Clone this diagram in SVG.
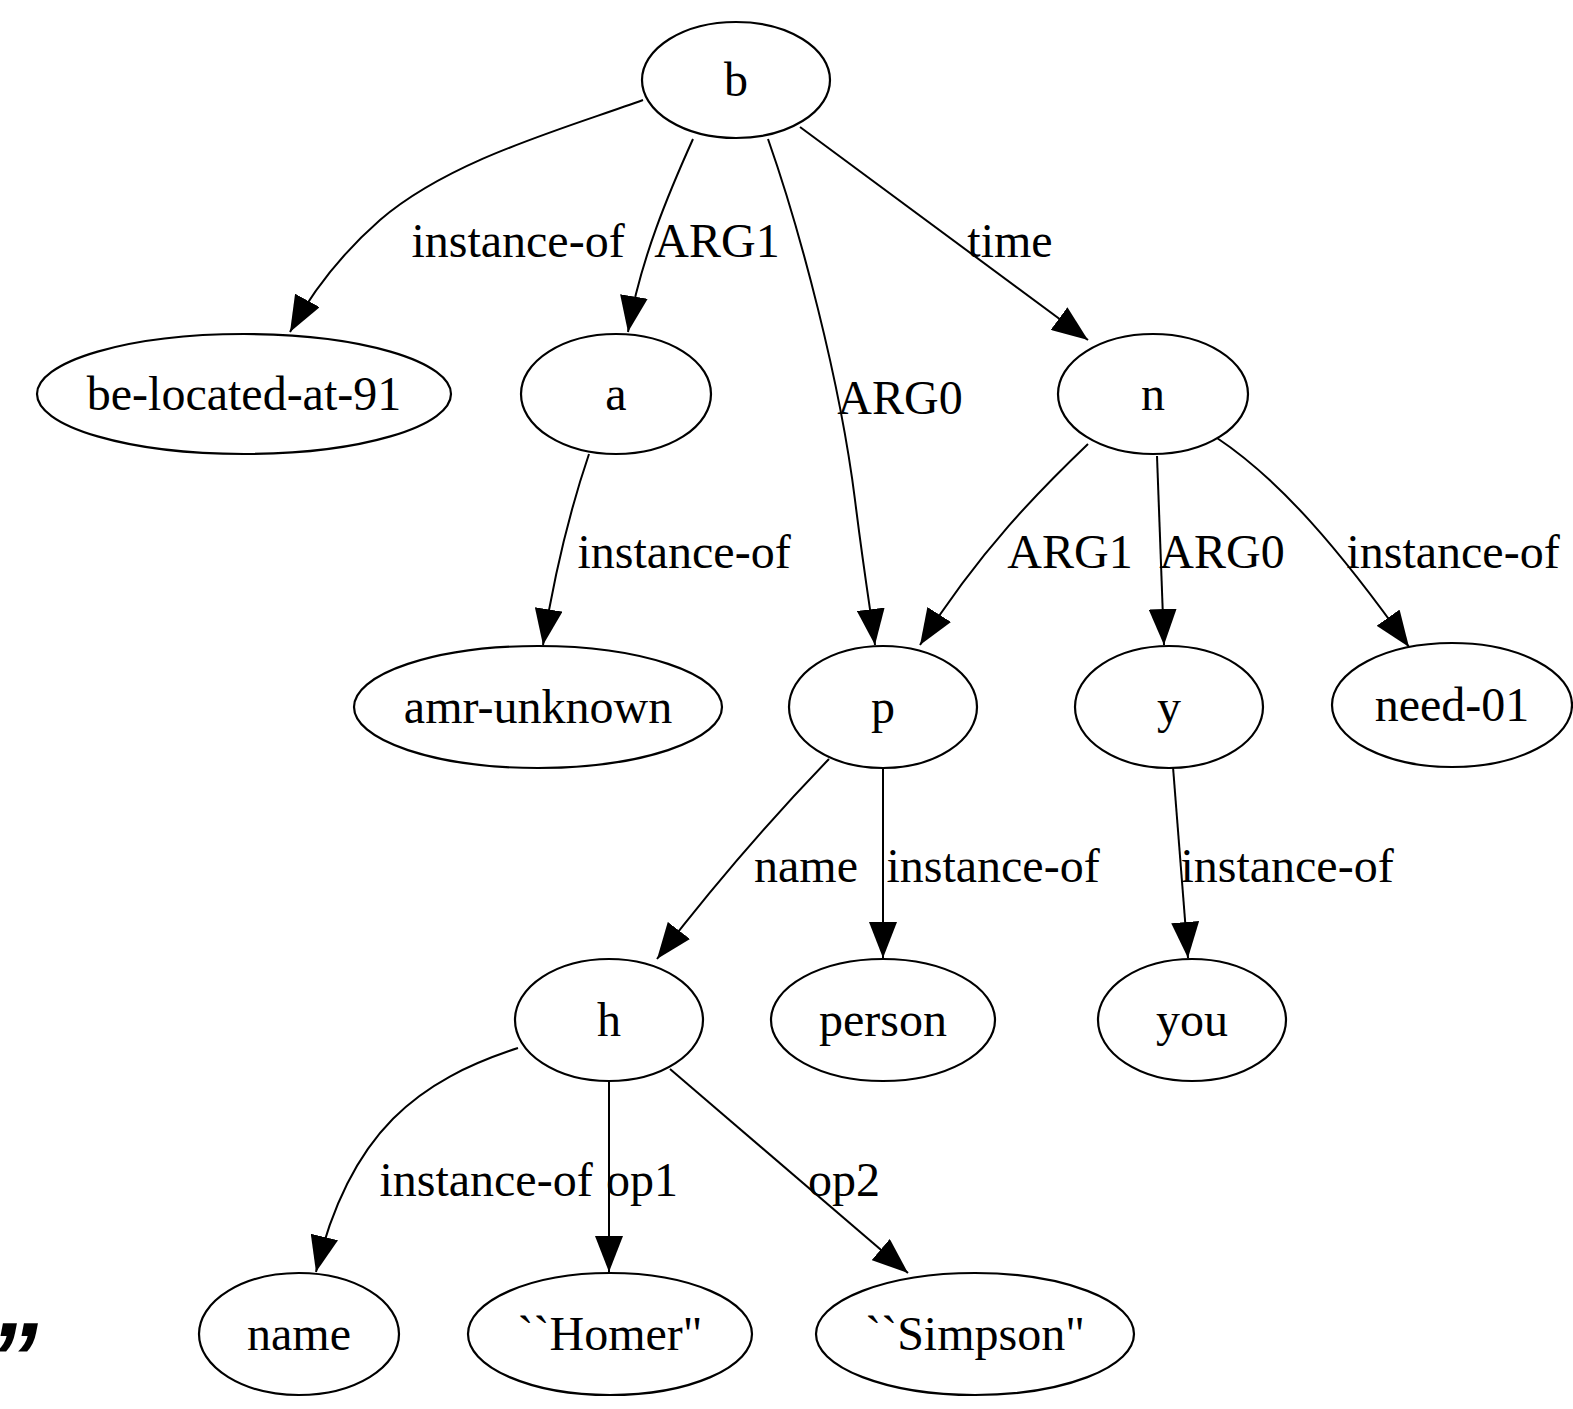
<svg xmlns="http://www.w3.org/2000/svg" width="1573" height="1409" viewBox="0 0 1573 1409">
<style>
  .node ellipse { fill: #fff; stroke: #000; stroke-width: 2.2; }
  .node text, .lbl { font-family: "Liberation Serif", "Times New Roman", serif; font-size: 48px; fill: #000; text-anchor: middle; }
  .edge path { fill: none; stroke: #000; stroke-width: 2; marker-end: url(#arr); }
</style>
<defs>
  <marker id="arr" viewBox="0 0 36 28" refX="36" refY="14" markerWidth="36" markerHeight="28" markerUnits="userSpaceOnUse" orient="auto">
    <path d="M0,0 L36,14 L0,28 Z" fill="#000"/>
  </marker>
</defs>
<rect width="1573" height="1409" fill="#fff"/>

<g id="connectors">
  <g class="edge"><path d="M643,100 C560,130 450,160 380,220 C340,255 312,292 290,332"/></g>
  <g class="edge"><path d="M693,139 C670,190 640,260 628,332"/></g>
  <g class="edge"><path d="M768,139 C800,230 840,380 855,500 C865,580 872,620 875,645"/></g>
  <g class="edge"><path d="M800,127 L1088,340"/></g>
  <g class="edge"><path d="M589,454 C570,510 555,570 543,645"/></g>
  <g class="edge"><path d="M1088,444 C1040,490 980,550 920,645"/></g>
  <g class="edge"><path d="M1157,456 L1164,645"/></g>
  <g class="edge"><path d="M1217,438 C1280,480 1340,550 1409,647"/></g>
  <g class="edge"><path d="M829,759 C770,820 710,890 657,959"/></g>
  <g class="edge"><path d="M883,767 L883,958"/></g>
  <g class="edge"><path d="M1173,767 L1188,958"/></g>
  <g class="edge"><path d="M518,1048 C420,1080 350,1130 316,1272"/></g>
  <g class="edge"><path d="M609,1080 L609,1272"/></g>
  <g class="edge"><path d="M670,1069 L908,1273"/></g>
  <text class="lbl" x="518" y="257">instance-of</text>
  <text class="lbl" x="717" y="257">ARG1</text>
  <text class="lbl" x="900" y="414">ARG0</text>
  <text class="lbl" x="1010" y="257">time</text>
  <text class="lbl" x="684" y="568">instance-of</text>
  <text class="lbl" x="1070" y="568">ARG1</text>
  <text class="lbl" x="1222" y="568">ARG0</text>
  <text class="lbl" x="1453" y="568">instance-of</text>
  <text class="lbl" x="806" y="882">name</text>
  <text class="lbl" x="993" y="882">instance-of</text>
  <text class="lbl" x="1287" y="882">instance-of</text>
  <text class="lbl" x="486" y="1196">instance-of</text>
  <text class="lbl" x="642" y="1196">op1</text>
  <text class="lbl" x="844" y="1196">op2</text>
</g>

<g id="node-b" class="node"><ellipse cx="736" cy="80" rx="94" ry="58"/><text x="736" y="96">b</text></g>
<g id="node-be-located-at-91" class="node"><ellipse cx="244" cy="394" rx="207" ry="60"/><text x="244" y="410">be-located-at-91</text></g>
<g id="node-a" class="node"><ellipse cx="616" cy="394" rx="95" ry="60"/><text x="616" y="410">a</text></g>
<g id="node-n" class="node"><ellipse cx="1153" cy="394" rx="95" ry="60"/><text x="1153" y="410">n</text></g>
<g id="node-amr-unknown" class="node"><ellipse cx="538" cy="707" rx="184" ry="61"/><text x="538" y="723">amr-unknown</text></g>
<g id="node-p" class="node"><ellipse cx="883" cy="707" rx="94" ry="61"/><text x="883" y="723">p</text></g>
<g id="node-y" class="node"><ellipse cx="1169" cy="707" rx="94" ry="61"/><text x="1169" y="723">y</text></g>
<g id="node-need-01" class="node"><ellipse cx="1452" cy="705" rx="120" ry="62"/><text x="1452" y="721">need-01</text></g>
<g id="node-h" class="node"><ellipse cx="609" cy="1020" rx="94" ry="61"/><text x="609" y="1036">h</text></g>
<g id="node-person" class="node"><ellipse cx="883" cy="1020" rx="112" ry="61"/><text x="883" y="1036">person</text></g>
<g id="node-you" class="node"><ellipse cx="1192" cy="1020" rx="94" ry="61"/><text x="1192" y="1036">you</text></g>
<g id="node-name" class="node"><ellipse cx="299" cy="1334" rx="100" ry="61"/><text x="299" y="1350">name</text></g>
<g id="node-homer" class="node"><ellipse cx="610" cy="1334" rx="142" ry="61"/><text x="610" y="1350">``Homer"</text></g>
<g id="node-simpson" class="node"><ellipse cx="975" cy="1334" rx="159" ry="61"/><text x="975" y="1350">``Simpson"</text></g>

<text x="-12" y="1392" font-family="Liberation Sans, Arial, sans-serif" font-size="100" font-weight="bold" font-style="italic">”</text>
</svg>
